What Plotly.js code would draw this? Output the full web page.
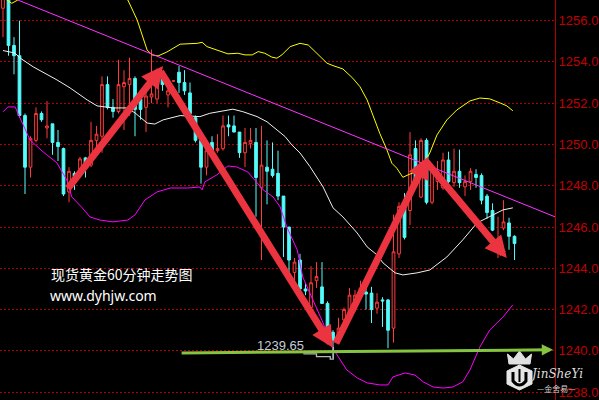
<!DOCTYPE html>
<html>
<head>
<meta charset="utf-8">
<script src="https://cdn.plot.ly/plotly-3.0.1.min.js"></script>
<style>
html,body{margin:0;padding:0;background:#000;}
#chart{width:599px;height:400px;}
</style>
</head>
<body>
<div id="chart"></div>
<script>
// ---- candle data (index = hourly bar) ----
const opens = [1256.6,1257.3,1254.8,1254.3,1251.4,1248.9,1250.2,1251.5,1250.8,1251.0,
1250.1,1249.8,1247.7,1248.6,1248.8,1249.35,1249.0,1250.2,1250.4,1252.9,
1251.8,1251.6,1252.8,1252.9,1253.2,1252.2,1251.8,1252.3,1252.2,1253.5,
1252.4,1253.08,1253.5,1253.0,1252.5,1251.3,1250.2,1248.9,1250.1,1249.7,
1249.8,1250.95,1250.9,1250.6,1249.6,1250.05,1250.1,1247.9,1248.9,1248.8,
1248.6,1247.5,1246.0,1243.8,1244.4,1243.0,1242.1,1243.4,1243.1,1242.3,
1240.9,1240.5,1241.5,1241.8,1242.3,1242.7,1242.85,1242.8,1242.07,1242.47,
1242.47,1241.1,1244.7,1246.9,1246.8,1249.8,1247.45,1250.2,1247.2,1248.2,
1247.9,1249.25,1248.15,1248.7,1247.95,1248.2,1248.55,1248.5,1247.5,1246.8,
1245.1,1245.95,1246.2,1245.55];
const highs = [1257.6,1257.5,1255.2,1256.0,1251.5,1250.4,1251.8,1251.6,1252.1,1251.0,
1250.7,1249.85,1248.9,1248.7,1249.4,1249.4,1251.1,1250.9,1253.3,1253.3,
1252.2,1254.1,1253.6,1254.2,1253.3,1252.3,1252.8,1254.6,1253.0,1253.5,
1253.0,1253.1,1253.8,1253.6,1253.0,1251.4,1250.3,1250.0,1250.4,1250.5,
1251.4,1251.4,1251.4,1250.6,1250.8,1250.8,1250.8,1250.9,1250.2,1250.1,
1249.7,1247.5,1246.0,1244.5,1244.7,1243.3,1244.1,1244.3,1244.3,1242.4,
1241.0,1241.6,1242.1,1243.05,1242.95,1243.4,1243.1,1243.1,1242.8,1242.6,
1242.5,1246.6,1247.2,1247.65,1250.6,1250.2,1250.3,1250.3,1249.0,1249.2,
1249.6,1249.65,1249.8,1249.75,1248.5,1248.85,1248.8,1248.6,1247.6,1247.15,
1246.5,1247.3,1246.45,1245.6];
const lows = [1255.2,1254.3,1253.4,1251.3,1247.6,1248.4,1250.1,1251.1,1250.3,1249.5,
1249.2,1247.5,1247.2,1247.8,1248.4,1248.4,1248.9,1249.7,1249.6,1251.7,
1251.3,1251.5,1250.7,1251.4,1250.4,1251.2,1250.6,1252.0,1252.0,1252.6,
1251.8,1253.05,1252.5,1252.4,1251.3,1250.1,1248.1,1248.5,1249.5,1249.6,
1249.7,1250.4,1250.6,1249.35,1248.9,1249.8,1246.5,1244.4,1247.1,1248.4,
1247.3,1244.55,1243.8,1243.4,1242.5,1242.7,1242.1,1243.05,1242.3,1240.9,
1239.65,1240.4,1241.2,1241.8,1241.9,1242.6,1242.0,1241.35,1241.8,1241.16,
1240.13,1240.4,1244.5,1245.4,1246.1,1247.9,1247.4,1247.1,1247.1,1247.8,
1247.8,1248.1,1247.95,1247.9,1247.5,1247.8,1247.9,1247.1,1246.4,1245.8,
1244.5,1245.85,1244.9,1244.4];
const closes = [1257.3,1254.8,1254.3,1251.4,1248.9,1250.3,1251.5,1251.2,1250.9,1250.1,
1249.9,1247.6,1248.7,1248.45,1249.3,1249.1,1250.2,1250.5,1252.9,1251.8,
1251.6,1252.9,1253.0,1253.2,1251.7,1251.7,1252.35,1252.45,1252.9,1252.9,
1252.6,1253.08,1253.0,1252.6,1251.5,1250.2,1248.9,1249.7,1249.7,1249.8,
1250.9,1250.85,1250.6,1249.6,1250.1,1250.2,1248.4,1249.0,1248.7,1248.5,
1247.5,1246.0,1244.4,1244.3,1243.0,1242.9,1243.3,1243.6,1242.3,1241.0,
1240.5,1241.1,1242.0,1242.7,1242.7,1243.05,1242.75,1242.0,1242.36,1242.42,
1241.0,1244.8,1247.0,1245.5,1249.5,1248.3,1250.2,1247.2,1248.9,1248.7,
1249.25,1248.2,1248.7,1248.15,1248.2,1248.7,1248.4,1247.3,1246.7,1245.85,
1245.4,1246.25,1245.55,1245.2];
const barIndex = opens.map((_, i) => i);

// ---- Bollinger band vertices (bar index, price) ----
const upperX = [0,0.7,1.6,2.7,5,10,15,20,22.7,24.4,25.5,26.2,27.1,28.2,29.8,32.2,35.3,36.2,37.1,38.9,40.9,42.7,44.0,45.3,46.4,47.6,48.9,49.8,50.7,52.2,54.0,55.5,56.4,58.9,60.0,61.8,63.6,64.9,66.2,67.3,68.5,69.8,70.7,71.6,72.7,74.0,75.3,76.4,77.6,78.9,80.7,82.5,84.9,86.7,88.5,90.4,91.6,92.7];
const upperY = [1257.2,1257.0,1256.84,1257.0,1257.5,1257.6,1257.7,1257.6,1257.0,1256.03,1255.07,1254.58,1254.34,1254.29,1254.48,1254.86,1254.9,1254.95,1254.74,1254.58,1254.39,1254.42,1254.34,1254.34,1254.5,1254.42,1254.23,1254.18,1254.34,1254.74,1254.9,1254.82,1254.58,1253.94,1253.82,1253.66,1253.21,1252.8,1252.16,1251.35,1250.54,1249.74,1249.09,1248.85,1248.41,1248.57,1248.68,1249.0,1249.59,1250.46,1251.19,1251.67,1252.11,1252.25,1252.21,1252.01,1251.87,1251.63];
const midX = [0,2.2,3.1,5.5,9.8,12.2,15.3,17.1,20.0,22.5,24.0,26.2,27.6,29.1,32.2,35.8,37.6,40.0,41.8,43.6,46.2,48.0,49.8,51.3,52.5,54.0,55.8,57.1,58.2,60.0,61.8,64.4,66.2,68.0,69.1,71.3,72.7,75.3,77.6,80.7,83.6,86.2,89.1,90.9,92.7];
const midY = [1254.55,1254.43,1254.19,1253.76,1253.13,1252.74,1252.16,1251.87,1251.77,1251.77,1251.53,1251.04,1250.99,1251.19,1251.4,1251.35,1251.51,1251.63,1251.71,1251.59,1251.35,1251.1,1250.7,1250.38,1249.98,1249.59,1248.93,1248.38,1247.94,1246.93,1246.49,1245.71,1245.04,1244.65,1244.26,1243.78,1243.68,1243.78,1243.92,1244.55,1245.38,1246.2,1246.59,1246.83,1246.93];
const lowerX = [0,0.9,2.2,3.6,4.9,7.3,9.8,11.6,12.5,14.4,15.8,17.6,20.0,22.7,24.0,25.8,28.0,30.4,33.5,35.8,36.2,36.7,38.9,40.9,42.5,44.5,45.8,47.3,49.1,50.4,51.6,53.5,54.5,56.4,58.2,59.8,61.3,62.5,64.4,66.2,68.5,70.0,70.9,73.1,74.9,76.4,78.2,80.0,81.8,83.6,84.9,86.7,88.5,90.9,92.7];
const lowerY = [1251.58,1251.82,1251.82,1250.95,1250.22,1249.64,1249.11,1248.28,1247.46,1246.93,1246.49,1246.34,1246.25,1246.34,1246.59,1247.31,1247.7,1247.89,1247.89,1247.94,1247.8,1248.19,1248.53,1248.96,1248.91,1248.67,1248.28,1247.8,1247.46,1246.97,1246.0,1244.89,1243.58,1242.47,1241.35,1240.19,1239.56,1239.08,1238.69,1238.45,1238.35,1238.35,1238.74,1238.93,1238.83,1238.5,1238.25,1238.2,1238.25,1238.5,1239.08,1240.19,1241.01,1241.64,1242.23];

// ---- drawn analysis ----
const trendX = [2.7, 100.4];
const trendY = [1257.0, 1246.49];
const arrowFromX = [11.6, 28.5, 60.4, 76.7];
const arrowFromY = [1247.8, 1253.6, 1240.3, 1249.25];
const arrowToX = [29.1, 60.0, 77.3, 91.6];
const arrowToY = [1253.8, 1240.15, 1249.4, 1244.5];
const supportX = [32.2, 100.0];
const supportY = [1239.9, 1240.05];
const lowMarkX = [54.6, 57.0, 57.0, 59.5, 59.5, 60.05, 60.05];
const lowMarkY = [1239.85, 1239.85, 1239.72, 1239.72, 1239.6, 1239.6, 1240.2];
const lowLabel = "1239.65";
const lowLabelX = 50.4, lowLabelY = 1240.24;
const titleText = "现货黄金60分钟走势图";
const siteText = "www.dyhjw.com";
const yTicks = [1238,1240,1242,1244,1246,1248,1250,1252,1254,1256];

const traces = [
  {type:'scatter', mode:'lines', x:upperX, y:upperY, line:{color:'#ffff00', width:1}, hoverinfo:'skip'},
  {type:'scatter', mode:'lines', x:midX, y:midY, line:{color:'#f0f0f0', width:1}, hoverinfo:'skip'},
  {type:'scatter', mode:'lines', x:lowerX, y:lowerY, line:{color:'#ff00ff', width:1}, hoverinfo:'skip'},
  {type:'scatter', mode:'lines', x:trendX, y:trendY, line:{color:'#ff33ff', width:1}, hoverinfo:'skip'},
  {type:'candlestick', x:barIndex, open:opens, high:highs, low:lows, close:closes,
   increasing:{line:{color:'#ff3b3b', width:1}, fillcolor:'#000000'},
   decreasing:{line:{color:'#54fcfc', width:1}, fillcolor:'#54fcfc'},
   whiskerwidth:0},
  {type:'scatter', mode:'lines', x:lowMarkX, y:lowMarkY, line:{color:'#b8b8b8', width:1.3}, hoverinfo:'skip'}
];

const annotations = [];
for (let i = 0; i < arrowFromX.length; i++) {
  annotations.push({x:arrowToX[i], y:arrowToY[i], ax:arrowFromX[i], ay:arrowFromY[i],
    xref:'x', yref:'y', axref:'x', ayref:'y', text:'', showarrow:true,
    arrowhead:2, arrowsize:0.62, arrowwidth:7, arrowcolor:'#ec3440', standoff:0});
}
annotations.push({x:supportX[1], y:supportY[1], ax:supportX[0], ay:supportY[0],
  xref:'x', yref:'y', axref:'x', ayref:'y', text:'', showarrow:true,
  arrowhead:2, arrowsize:0.75, arrowwidth:3, arrowcolor:'#84c440', standoff:0});
annotations.push({x:lowLabelX, y:lowLabelY, xref:'x', yref:'y', text:lowLabel, showarrow:false,
  font:{family:'Liberation Sans, Arial', size:13, color:'#c4ccdc'}});
annotations.push({x:49/555, y:1-274/400, xref:'paper', yref:'paper', xanchor:'left', yanchor:'middle',
  text:titleText, showarrow:false, font:{family:'Noto Sans CJK SC', size:14, color:'#ffffff'}});
annotations.push({x:48/555, y:1-295/400, xref:'paper', yref:'paper', xanchor:'left', yanchor:'middle',
  text:siteText, showarrow:false, font:{family:'Noto Sans', size:14, color:'#ffffff'}});
annotations.push({x:556/555, y:1-374/400, xref:'paper', yref:'paper', xanchor:'center', yanchor:'middle',
  text:'<i>JinSheYi</i>', showarrow:false, font:{family:'DejaVu Serif', size:12, color:'#dcdcdc'}});
annotations.push({x:556/555, y:1-388/400, xref:'paper', yref:'paper', xanchor:'center', yanchor:'middle',
  text:'—金舍易—', showarrow:false, font:{family:'Noto Sans CJK SC', size:8, color:'#cfcfcf'}});

const P = (px, py) => (px/555).toFixed(4) + ',' + (1 - py/400).toFixed(4);
const shapes = [
  {type:'path', xref:'paper', yref:'paper', layer:'above',
   path:'M'+P(519.5,365)+' L'+P(532,371)+' L'+P(532,384)+' L'+P(519.5,390)+' L'+P(507,384)+' L'+P(507,371)+' Z',
   fillcolor:'#e6e6e6', line:{color:'#e6e6e6', width:1}},
  {type:'path', xref:'paper', yref:'paper', layer:'above',
   path:'M'+P(513,372)+' L'+P(513,381)+' Q'+P(519.5,389)+' '+P(526,381)+' L'+P(526,372),
   line:{color:'#000000', width:3}},
  {type:'path', xref:'paper', yref:'paper', layer:'above',
   path:'M'+P(519.5,369)+' L'+P(519.5,382),
   line:{color:'#000000', width:2}},
  {type:'path', xref:'paper', yref:'paper', layer:'above',
   path:'M'+P(509,364)+' L'+P(507.5,354)+' L'+P(513.5,359)+' L'+P(519.5,351)+' L'+P(525.5,359)+' L'+P(531.5,354)+' L'+P(530,364)+' Z',
   fillcolor:'#e0e0e0', line:{color:'#e0e0e0', width:1}}
];

const layout = {
  width:599, height:400,
  paper_bgcolor:'#000000', plot_bgcolor:'#000000',
  margin:{l:0, r:44, t:0, b:0, pad:0},
  showlegend:false,
  xaxis:{range:[-0.545, 100.36], visible:false, rangeslider:{visible:false}, fixedrange:true},
  yaxis:{side:'right', range:[1237.62, 1257.0], tickmode:'array', tickvals:yTicks,
    tickformat:'.1f', ticks:'', showgrid:true, gridcolor:'#b00000', griddash:'2px,2px', gridwidth:1,
    showline:true, linecolor:'#b40000', linewidth:1, zeroline:false,
    tickfont:{family:'Liberation Sans, Arial', size:13, color:'#c00000'}, fixedrange:true},
  annotations:annotations,
  shapes:shapes
};

Plotly.newPlot('chart', traces, layout, {staticPlot:true, displayModeBar:false});
</script>
</body>
</html>
